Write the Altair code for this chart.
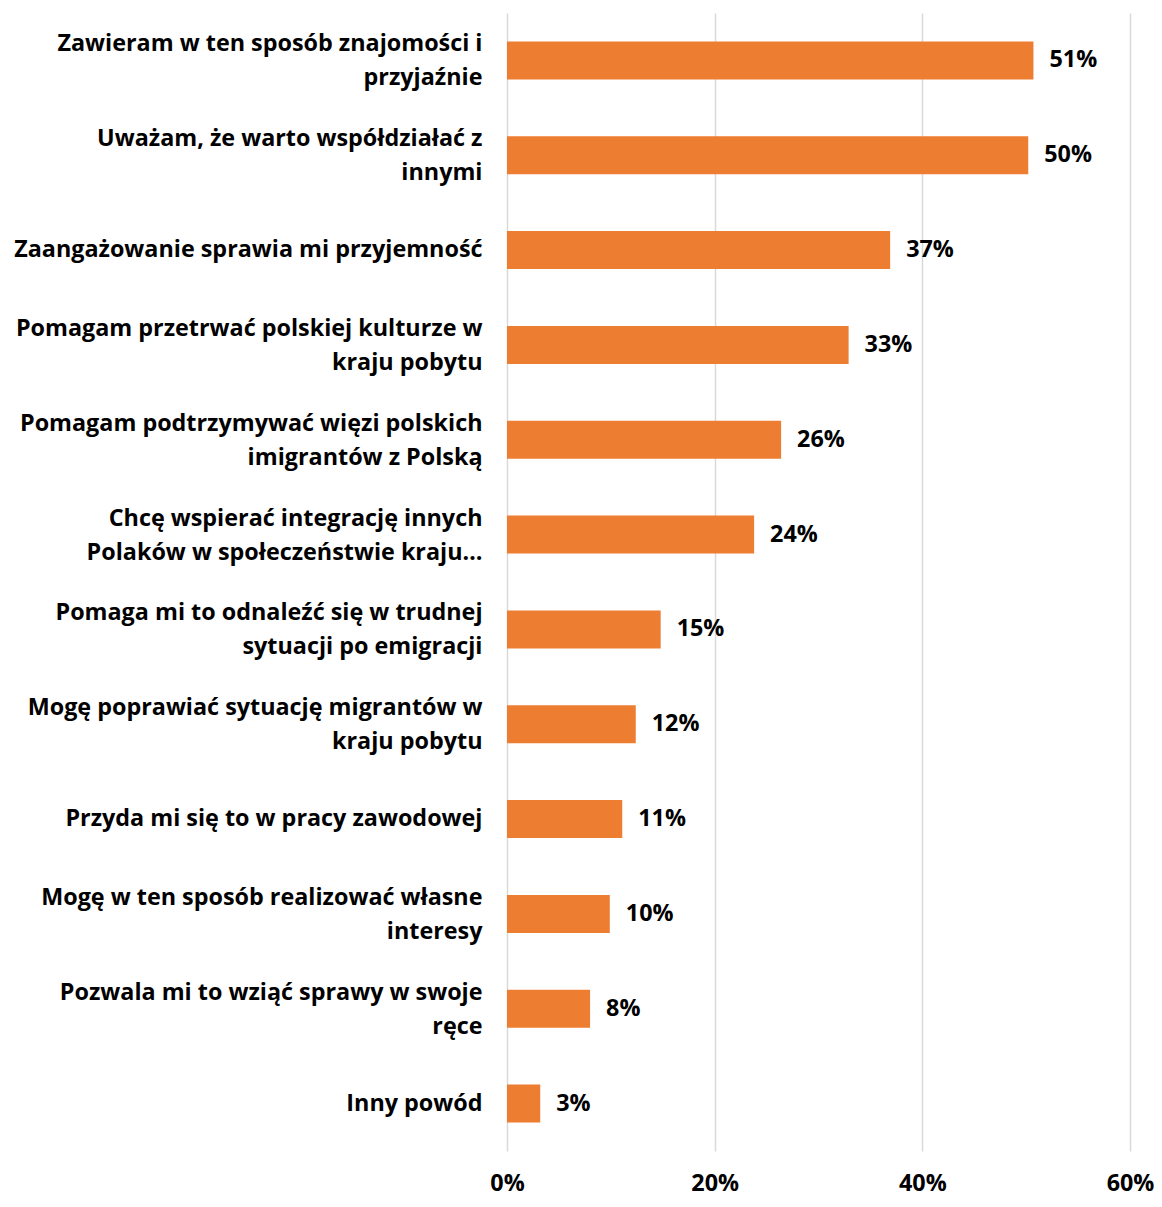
import altair as alt
import pandas as pd

categories = [
    "Zawieram w ten sposób znajomości i|przyjaźnie",
    "Uważam, że warto współdziałać z|innymi",
    "Zaangażowanie sprawia mi przyjemność",
    "Pomagam przetrwać polskiej kulturze w|kraju pobytu",
    "Pomagam podtrzymywać więzi polskich|imigrantów z Polską",
    "Chcę wspierać integrację innych|Polaków w społeczeństwie kraju…",
    "Pomaga mi to odnaleźć się w trudnej|sytuacji po emigracji",
    "Mogę poprawiać sytuację migrantów w|kraju pobytu",
    "Przyda mi się to w pracy zawodowej",
    "Mogę w ten sposób realizować własne|interesy",
    "Pozwala mi to wziąć sprawy w swoje|ręce",
    "Inny powód",
]
values = [50.7, 50.2, 36.9, 32.9, 26.4, 23.8, 14.8, 12.4, 11.1, 9.9, 8.0, 3.2]
tick_values = [0, 20, 40, 60]

df = pd.DataFrame({"cat": categories, "val": values})

FONT = "Open Sans"
FS = 23.35
ORANGE = "#ED7D31"

y_enc = alt.Y(
    "cat:N",
    sort=categories,
    title=None,
    scale=alt.Scale(paddingInner=0.6, paddingOuter=0.3),
    axis=alt.Axis(
        labelExpr="split(datum.label, '|')",
        labelFont=FONT,
        labelFontSize=FS,
        labelFontWeight="bold",
        labelColor="#000000",
        labelLineHeight=34,
        labelPadding=25,
        labelLimit=700,
        labelOffset={"condition": {"test": "indexof(datum.label, '|') >= 0", "value": -16}, "value": 0},
        domain=False,
        ticks=False,
        grid=False,
    ),
)

x_enc = alt.X(
    "val:Q",
    title=None,
    scale=alt.Scale(domain=[0, 60], nice=False),
    axis=alt.Axis(
        values=tick_values,
        labelExpr="datum.value + '%'",
        labelFont=FONT,
        labelFontSize=FS,
        labelFontWeight="bold",
        labelColor="#000000",
        labelPadding=21,
        labelFlush=False,
        grid=True,
        gridColor="#D9D9D9",
        gridWidth=1.5,
        domain=False,
        ticks=False,
    ),
)

bars = alt.Chart(df).mark_bar(color=ORANGE).encode(x=x_enc, y=y_enc)

text = (
    alt.Chart(df)
    .transform_calculate(lbl="format(datum.val, '.0f') + '%'")
    .mark_text(
        align="left",
        baseline="middle",
        dx=16,
        font=FONT,
        fontSize=FS,
        fontWeight="bold",
        color="#000000",
    )
    .encode(x=x_enc, y=y_enc, text="lbl:N")
)

chart = (
    alt.layer(bars, text)
    .properties(
        width=1146,
        height=1190,
        autosize=alt.AutoSizeParams(type="fit", contains="padding"),
        view=alt.ViewBackground(stroke=None, strokeWidth=0),
        padding={"top": 5, "left": 5, "right": 0, "bottom": 3},
    )
    .configure_view(strokeWidth=0, stroke=None)
    .configure_axis(domain=False, ticks=False)
    .configure(background="#FFFFFF")
)

chart.save("out.html", embed_options={"renderer": "svg", "actions": False})
